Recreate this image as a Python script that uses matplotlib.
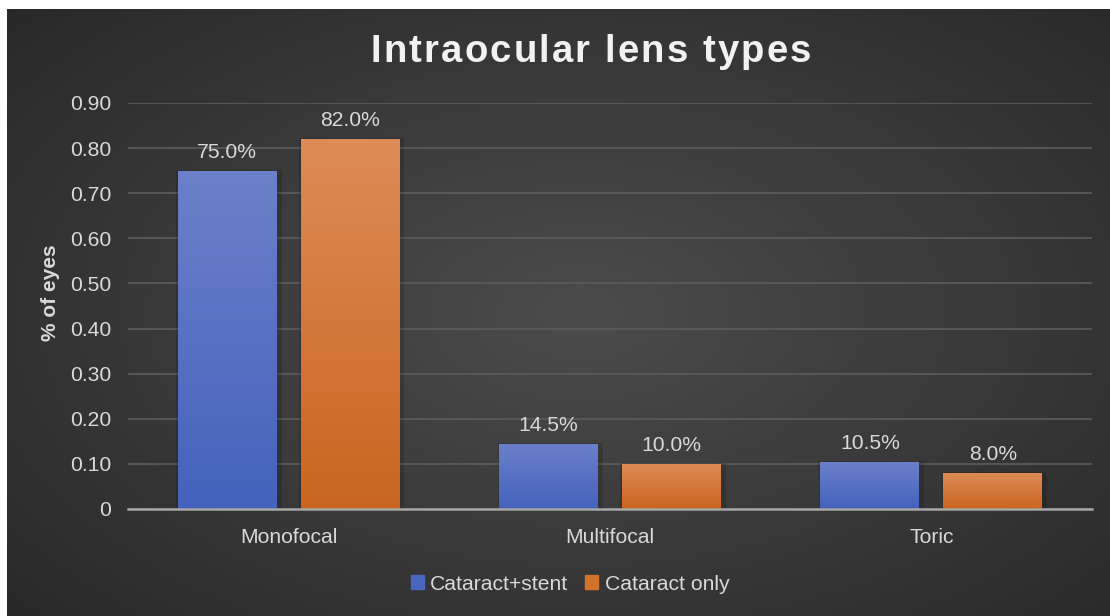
import numpy as np
import matplotlib
matplotlib.use("Agg")
import matplotlib.pyplot as plt
from matplotlib.colors import LinearSegmentedColormap
from matplotlib.patches import Patch

categories = ["Monofocal", "Multifocal", "Toric"]
series_names = ["Cataract+stent", "Cataract only"]
stent_vals = [0.75, 0.145, 0.105]
only_vals = [0.82, 0.10, 0.08]
ytick_vals = [0, 0.1, 0.2, 0.3, 0.4, 0.5, 0.6, 0.7, 0.8, 0.9]
ytick_labels = ["0", "0.10", "0.20", "0.30", "0.40", "0.50", "0.60", "0.70", "0.80", "0.90"]
title = "Intraocular lens types"

plt.rcParams['font.family'] = ['Liberation Sans', 'DejaVu Sans']
W, H = 1110, 616
fig = plt.figure(figsize=(W / 100, H / 100), dpi=100)
fig.patch.set_facecolor('white')

# background panel with radial gradient
bg = fig.add_axes([7 / W, 0, 1 - 7 / W, 1 - 9 / H])
bg.set_axis_off()
yy, xx = np.mgrid[0:1:300j, 0:1:600j]
r = np.sqrt(((xx - 0.52) / 0.75) ** 2 + ((yy - 0.5) / 0.8) ** 2)
r = np.clip(r, 0, 1)
c0 = np.array([0x4c, 0x4c, 0x4c]) / 255
c1 = np.array([0x26, 0x26, 0x26]) / 255
img = c0[None, None, :] * (1 - r[..., None]) + c1[None, None, :] * r[..., None]
bg.imshow(img, aspect='auto', extent=[0, 1, 0, 1], origin='lower')
bg.set_xlim(0, 1)
bg.set_ylim(0, 1)

left, right = 128, 1092
bot_y, top_y = 509, 103
ax = fig.add_axes([left / W, 1 - bot_y / H, (right - left) / W, (bot_y - top_y) / H])
ax.set_facecolor('none')
x = np.arange(len(categories))
width = 0.308
off = 0.191
ymax = 0.90
ax.set_xlim(-0.5, 2.5)
ax.set_ylim(0, ymax)

blue_cmap = LinearSegmentedColormap.from_list('b', ['#4462bd', '#6b80c9'])
orange_cmap = LinearSegmentedColormap.from_list('o', ['#c9651f', '#de8b58'])

text_col = '#d9d9d9'
fs = 15.2
for vals, sign, cmap, base in [(stent_vals, -1, blue_cmap, '#4a67c0'), (only_vals, 1, orange_cmap, '#d3722d')]:
    bars = ax.bar(x + sign * off, vals, width, color=base, zorder=3, linewidth=0)
    for b, v in zip(bars, vals):
        bx, bw, bh = b.get_x(), b.get_width(), b.get_height()
        ax.bar(bx + bw / 2 + 0.005, bh + 0.002, bw + 0.02, bottom=0, color='black', alpha=0.14,
               zorder=2, linewidth=0)
        grad = np.linspace(0, 1, 100).reshape(-1, 1)
        im = ax.imshow(grad, cmap=cmap, aspect='auto', extent=[bx, bx + bw, 0, bh],
                       origin='lower', zorder=3.5, vmin=0, vmax=1)
        im.set_clip_path(b)
        ax.text(bx + bw / 2, v + 0.02, f"{v * 100:.1f}%", ha='center', va='bottom',
                color=text_col, fontsize=fs, zorder=5)

ax.set_yticks(ytick_vals)
ax.set_yticklabels(ytick_labels)
ax.set_xticks(x)
ax.set_xticklabels(categories)
ax.tick_params(axis='both', length=0, colors=text_col, labelsize=fs)
ax.tick_params(axis='x', pad=13.5)
ax.tick_params(axis='y', pad=12)
ax.grid(axis='y', color='#5c5c5c', linewidth=1.2, zorder=0)
for s in ['top', 'right', 'left']:
    ax.spines[s].set_visible(False)
ax.spines['bottom'].set_color('#a6a6a6')
ax.spines['bottom'].set_linewidth(1.8)
ax.spines['bottom'].set_zorder(4)

fig.text(50 / W, 1 - 293 / H, '% of eyes', rotation=90, ha='center', va='center',
         color=text_col, fontsize=15, fontweight='bold')

# title with letter spacing
renderer = fig.canvas.get_renderer()
tfs = 27.5
spacing = 2.15  # px
widths = []
for ch in title:
    t = fig.text(0, 0, ch if ch != ' ' else 'a a', fontsize=tfs, fontweight='bold')
    w = t.get_window_extent(renderer).width
    if ch == ' ':
        t2 = fig.text(0, 0, 'aa', fontsize=tfs, fontweight='bold')
        w = w - t2.get_window_extent(renderer).width
        t2.remove()
    t.remove()
    widths.append(w)
total = sum(widths) + spacing * (len(title) - 1)
cx = 591
xpos = cx - total / 2
for ch, w in zip(title, widths):
    if ch != ' ':
        fig.text(xpos / W, 1 - 52 / H, ch, ha='left', va='center',
                 color='#f2f2f2', fontsize=tfs, fontweight='bold')
    xpos += w + spacing

handles = [Patch(facecolor='#4a67c0', edgecolor='#4a67c0'), Patch(facecolor='#d3722d', edgecolor='#d3722d')]
leg = fig.legend(handles, series_names, loc='center', bbox_to_anchor=(570 / W, 1 - 584 / H), ncol=2,
                 frameon=False, fontsize=fs, handlelength=0.62, handleheight=0.62,
                 handletextpad=0.3, columnspacing=0.8, labelcolor=text_col)

fig.savefig('out.png', dpi=100, facecolor=fig.get_facecolor())
